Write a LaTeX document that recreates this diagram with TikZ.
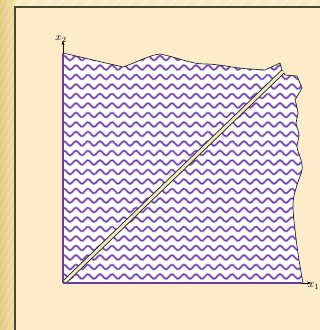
\documentclass[tikz,border=0pt]{standalone}
\usetikzlibrary{arrows.meta}
\definecolor{bgcream}{RGB}{252,236,202}
\definecolor{topcream}{RGB}{250,234,196}
\definecolor{goldA}{RGB}{228,200,128}
\definecolor{goldB}{RGB}{244,222,164}
\definecolor{framec}{RGB}{78,70,52}
\definecolor{wavelight}{RGB}{185,162,225}
\definecolor{wavedark}{RGB}{105,58,168}
\definecolor{axispurple}{RGB}{105,60,160}
\definecolor{bandcream}{RGB}{246,232,196}
\tikzset{
  wavelt/.style={wavelight, line width=2.3pt},
  wavedk/.style={wavedark, line width=1pt},
  outline/.style={black!85, line width=0.7pt},
  axisp/.style={axispurple, line width=1.2pt},
  axisb/.style={black, line width=0.7pt, -{Stealth[length=4pt,width=3pt]}},
  lbl/.style={inner sep=0pt, font=\fontsize{11}{13}\selectfont}
}
\def\toprightpath{(63,53) -- (123,67) .. controls (140,61) and (150,55) .. (160,54) .. controls (180,58) and (190,64) .. (205,64) .. controls (220,64) and (232,68) .. (250,69) -- (265,70) -- (280,63) -- (282,70) -- (285,75) -- (297,76) -- (302,88) -- plot[smooth, tension=0.6] coordinates {(295,100) (298,113) (296,123) (299,135) (297,147) (301,160) (302,170) (297,185) (293,203) (295,230) (299,260) (303,283)}}
\begin{document}
\begin{tikzpicture}[x=1pt,y=-1pt]
\useasboundingbox (0,0) rectangle (320,330);
\fill[bgcream] (0,0) rectangle (320,330);
\fill[topcream] (15,0) rectangle (320,7);
\shade[left color=goldA, right color=goldB] (0,0) rectangle (15,330);
\begin{scope}
  \clip (0,0) rectangle (15,330);
  \foreach \i in {-40,-28,...,360} {
    \draw[white, opacity=0.18, line width=2pt] (0,\i) -- (15,\i-30);
  }
\end{scope}
\begin{scope}
  \clip (15,0) rectangle (320,7);
  \foreach \i in {0,14,...,330} {
    \draw[white, opacity=0.35, line width=2pt] (\i,7) -- (\i+8,0);
  }
\end{scope}
\draw[framec, line width=2pt] (15,330) -- (15,7) -- (320,7);
% region with wavy pattern
\begin{scope}
  \clip \toprightpath -- (63,283) -- cycle;
  \fill[white] (55,40) rectangle (310,290);
  \foreach \yy in {48.5,58,...,292} {
    \draw[wavelt] plot[domain=55:310, samples=120, smooth] (\x, {\yy + 2.4*sin(30*(\x-55))});
    \draw[wavedk] plot[domain=55:310, samples=120, smooth] (\x, {\yy + 2.4*sin(30*(\x-55))});
  }
\end{scope}
\draw[outline] \toprightpath;
% band
\coordinate (b0) at (64.5,282);
\coordinate (b1) at (283,71.5);
\draw[black!85, line width=4.6pt] (b0) -- (b1);
\draw[bandcream, line width=2.8pt] (b0) -- (b1);
% axes
\coordinate (O) at (63,283);
\coordinate (Y0) at (63,53);
\coordinate (X0) at (302,283);
\coordinate (Y1) at (63,41);
\coordinate (X1) at (311,283);
\draw[axisp] (O) -- (Y0);
\draw[axisp] (O) -- (X0);
\draw[axisb] (Y0) -- (Y1);
\draw[axisb] (X0) -- (X1);
\node[lbl, anchor=base] (x2l) at (61,40.5) {$x_2$};
\node[lbl, anchor=base west] (x1l) at (308,287.5) {$x_1$};
\end{tikzpicture}
\end{document}
